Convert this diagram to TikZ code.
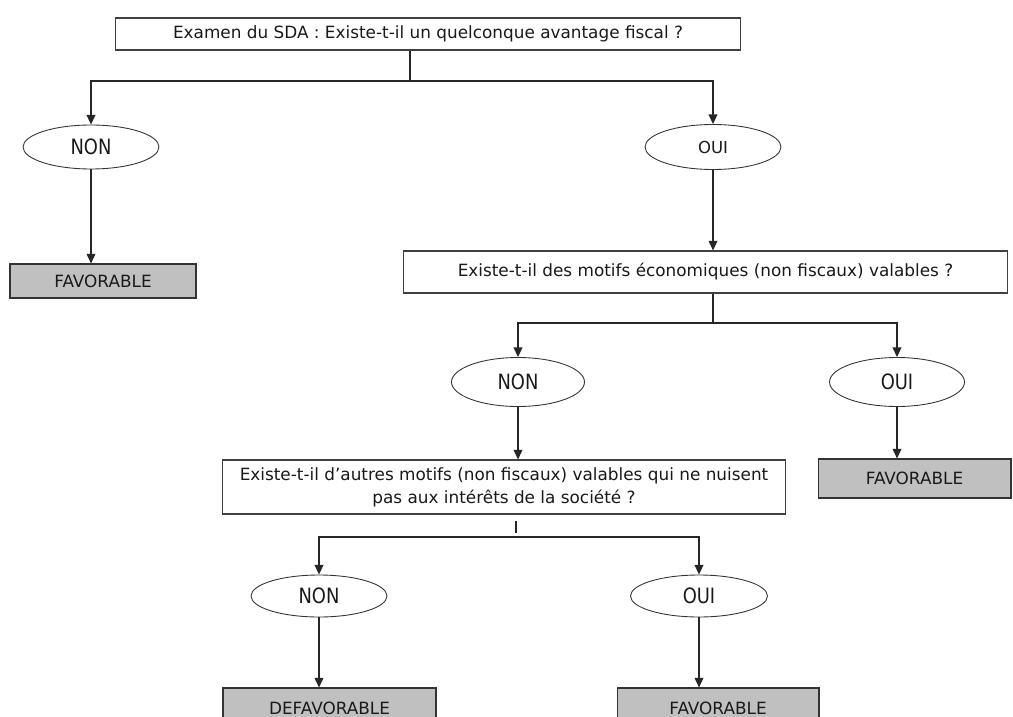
\documentclass[tikz,border=0pt]{standalone}
\usepackage{fontspec}
\setmainfont{DejaVu Sans}
\newfontfamily\answerfont[FakeStretch=0.85]{DejaVu Sans}
\usetikzlibrary{arrows.meta,shapes.geometric}

\begin{document}
\begin{tikzpicture}[x=0.02cm, y=-0.02cm, >={Triangle[length=5.5pt,width=5pt]},
  question/.style={draw=black!75, line width=0.6pt, inner sep=0pt, align=center,
    text=black!90, font=\fontsize{9.6}{13}\selectfont},
  verdict/.style={draw=black!80, fill=boxgray, line width=0.6pt, inner sep=0pt,
    text=black!90, font=\fontsize{9.6}{11}\selectfont},
  answer/.style={draw=black!80, ellipse, line width=0.5pt, inner sep=0pt,
    minimum width=2.72cm, minimum height=0.88cm, text=black!90,
    font=\answerfont\fontsize{12}{14}\selectfont},
  link/.style={->, line width=0.7pt, draw=black!85},
  stem/.style={line width=0.7pt, draw=black!85}]
  \definecolor{boxgray}{RGB}{192,192,192}

  \useasboundingbox (0,0) rectangle (1013,716);
  \clip (0,0) rectangle (1013,716);

  % premier niveau
  \node[question, minimum width=12.52cm, minimum height=0.64cm] (sda) at (428,34)
    {Examen du SDA : Existe-t-il un quelconque avantage fiscal ?};
  \node[answer] (non1) at (91,147) {NON};
  \node[answer, minimum height=0.9cm, font=\fontsize{9.4}{11}\selectfont] (oui1) at (713,147) {OUI};
  \node[verdict, minimum width=3.72cm, minimum height=0.68cm] (fav1) at (103,281) {FAVORABLE};

  % deuxieme niveau
  \node[question, minimum width=12.1cm, minimum height=0.84cm] (motifs) at (705.5,272)
    {Existe-t-il des motifs économiques (non fiscaux) valables ?};
  \node[answer, minimum width=2.66cm, minimum height=0.98cm] (non2) at (518,382) {NON};
  \node[answer, minimum width=2.7cm, minimum height=0.98cm] (oui2) at (897,382) {OUI};
  \node[verdict, minimum width=3.86cm, minimum height=0.78cm] (fav2) at (914.5,478.5) {FAVORABLE};

  % troisieme niveau
  \node[question, minimum width=11.28cm, minimum height=1.08cm] (autres) at (504,487)
    {Existe-t-il d’autres motifs (non fiscaux) valables qui ne nuisent\\pas aux intérêts de la société ?};
  \node[answer, minimum height=0.84cm] (non3) at (319,596) {NON};
  \node[answer, minimum width=2.74cm, minimum height=0.84cm] (oui3) at (699,596) {OUI};
  \node[verdict, minimum width=4.26cm, minimum height=0.8cm] (defav) at (329.5,708) {DEFAVORABLE};
  \node[verdict, minimum width=4.04cm, minimum height=0.8cm] (fav3) at (718,708) {FAVORABLE};

  \coordinate (j1) at (410,81);
  \coordinate (j2) at (713,323);
  \coordinate (j3) at (516,537);
  \coordinate (t3) at (516,521);
  \coordinate (b3) at (516,533);

  \draw[stem] (j1 |- sda.south) -- (j1);
  \draw[link] (j1) -| (non1);
  \draw[link] (j1) -| (oui1);
  \draw[link] (non1) -- (non1 |- fav1.north);
  \draw[link] (oui1) -- (oui1 |- motifs.north);

  \draw[stem] (j2 |- motifs.south) -- (j2);
  \draw[link] (j2) -| (non2);
  \draw[link] (j2) -| (oui2);
  \draw[link] (non2) -- (non2 |- autres.north);
  \draw[link] (oui2) -- (oui2 |- fav2.north);

  \draw[stem] (t3) -- (b3);
  \draw[link] (j3) -| (non3);
  \draw[link] (j3) -| (oui3);
  \draw[link] (non3) -- (non3 |- defav.north);
  \draw[link] (oui3) -- (oui3 |- fav3.north);
\end{tikzpicture}
\end{document}
